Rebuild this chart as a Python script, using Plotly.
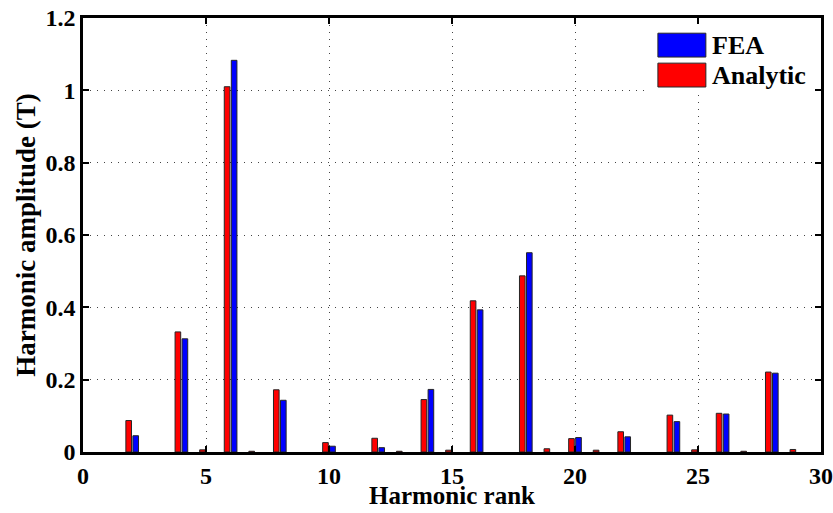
import plotly.graph_objects as go

# Harmonic spectrum of the air-gap flux density: analytic model vs FEA
# (None = harmonic absent, no bar drawn)
harmonics = list(range(1, 30))
analytic = [None, 0.087, None, 0.332, 0.006, 1.010, 0.002, 0.172, None, 0.026,
            None, 0.038, 0.002, 0.145, 0.005, 0.418, None, 0.487, 0.009, 0.037,
            0.005, 0.056, None, 0.102, 0.006, 0.107, 0.002, 0.221, 0.007]
fea = [None, 0.045, None, 0.313, None, 1.083, None, 0.143, None, 0.016,
       None, 0.012, None, 0.173, None, 0.393, None, 0.551, None, 0.040,
       None, 0.042, None, 0.084, None, 0.105, None, 0.218, None]

x_ticks = [0, 5, 10, 15, 20, 25, 30]
y_ticks = [0, 0.2, 0.4, 0.6, 0.8, 1.0, 1.2]
y_tick_text = ["0", "0.2", "0.4", "0.6", "0.8", "1", "1.2"]

RED = "#ff0000"
BLUE = "#0000ff"
EDGE = "#262626"
FONT = "Times New Roman, Liberation Serif, serif"

fig = go.Figure()
fig.add_trace(go.Bar(x=harmonics, y=analytic, name="Analytic",
                     marker=dict(color=RED, line=dict(color=EDGE, width=1))))
fig.add_trace(go.Bar(x=harmonics, y=fea, name="FEA",
                     marker=dict(color=BLUE, line=dict(color=EDGE, width=1))))

axis_common = dict(
    showline=True, linecolor="black", linewidth=2.5, mirror="ticks",
    ticks="inside", ticklen=6, tickwidth=2, tickcolor="black",
    showgrid=True, gridcolor="#444444", gridwidth=1, griddash="1px,6px",
    zeroline=False, automargin=False, ticklabeloverflow="allow",
    tickfont=dict(family=FONT, size=24, color="black", weight="bold"),
)

fig.update_layout(
    width=833, height=513,
    margin=dict(l=83, r=12, t=18, b=61),
    paper_bgcolor="white", plot_bgcolor="white",
    barmode="group", bargap=0.4286, bargroupgap=0.2,
    showlegend=False,
    font=dict(family=FONT, color="black"),
    xaxis=dict(axis_common, range=[0, 30], tickvals=x_ticks),
    yaxis=dict(axis_common, range=[0, 1.2], tickvals=y_ticks, ticktext=y_tick_text,
               title=dict(text="<b>Harmonic amplitude (T)</b>", standoff=3,
                          font=dict(family=FONT, size=27, color="black"))),
)

# x-axis title placed just under the tick labels
fig.add_annotation(xref="paper", yref="paper", x=0.5, y=-0.136,
                   text="<b>Harmonic rank</b>", showarrow=False,
                   xanchor="center", yanchor="bottom",
                   font=dict(family=FONT, size=25, color="black"))

# Legend panel: white box with large colour swatches
fig.add_shape(type="rect", xref="paper", yref="paper", x0=0.763, x1=0.990,
              y0=0.823, y1=0.984, fillcolor="white", line=dict(width=0), layer="above")
legend_items = [("FEA", BLUE, 0.965, 0.910), ("Analytic", RED, 0.896, 0.841)]
for label, color, top, bottom in legend_items:
    fig.add_shape(type="rect", xref="paper", yref="paper", x0=0.779, x1=0.844,
                  y0=bottom, y1=top, fillcolor=color,
                  line=dict(color=EDGE, width=1), layer="above")
    fig.add_annotation(xref="paper", yref="paper", x=0.850, y=(top + bottom) / 2,
                       text=f"<b>{label}</b>", showarrow=False,
                       xanchor="left", yanchor="middle",
                       font=dict(family=FONT, size=26, color="black"))

fig.write_html("out.html")
